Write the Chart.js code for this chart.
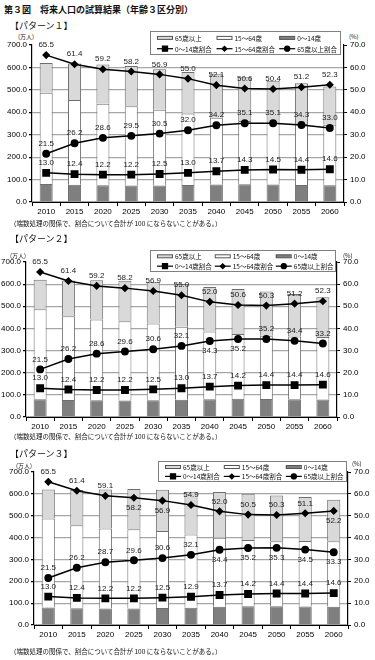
<!DOCTYPE html>
<html>
<head>
<meta charset="utf-8">
<script src="https://cdn.jsdelivr.net/npm/chart.js@4.4.0/dist/chart.umd.min.js"></script>
<style>
  body { margin: 0; width: 375px; height: 660px; background: #fff; position: relative; overflow: hidden; font-family: "Noto Sans CJK JP", sans-serif; color: #111; }
  .txt { position: absolute; white-space: nowrap; line-height: 1; }
  .title { font-size: 9px; font-weight: bold; }
  .pat { font-size: 9px; }
  .note { font-size: 6.5px; }
  .unit { font-size: 6px; }
  canvas { position: absolute; left: 0; }
</style>
</head>
<body>
<div class="txt title" style="left:4px;top:5px;">第３図　将来人口の試算結果（年齢３区分別）</div>

<div class="txt pat" style="left:10px;top:21px;">【パターン１】</div>
<div class="txt unit" style="left:18px;top:34px;">(万人)</div>
<div class="txt unit" style="left:349px;top:34px;">(%)</div>
<canvas id="chart1" width="375" height="190" style="top:30px;"></canvas>
<div class="txt note" style="left:10px;top:220px;">（端数処理の関係で、割合について合計が 100 にならないことがある。）</div>

<div class="txt pat" style="left:10px;top:234px;">【パターン２】</div>
<div class="txt unit" style="left:10px;top:253px;">(万人)</div>
<div class="txt unit" style="left:343px;top:253px;">(%)</div>
<canvas id="chart2" width="375" height="190" style="top:245px;"></canvas>
<div class="txt note" style="left:10px;top:433px;">（端数処理の関係で、割合について合計が 100 にならないことがある。）</div>

<div class="txt pat" style="left:10px;top:449px;">【パターン３】</div>
<div class="txt unit" style="left:16px;top:463px;">(万人)</div>
<div class="txt unit" style="left:352px;top:461px;">(%)</div>
<canvas id="chart3" width="375" height="188" style="top:455px;"></canvas>
<div class="txt note" style="left:10px;top:648px;">（端数処理の関係で、割合について合計が 100 にならないことがある。）</div>

<script>
const years = ['2010', '2015', '2020', '2025', '2030', '2035', '2040', '2045', '2050', '2055', '2060'];

// パターン１ (万人 / %)
const p1Young = [80.6, 76.5, 74.8, 74.1, 74.0, 75.4, 78.1, 79.5, 78.4, 76.3, 75.2];
const p1Work = [406.1, 378.8, 362.9, 353.3, 336.8, 319.0, 297.0, 281.3, 272.7, 271.4, 269.3];
const p1Old = [133.3, 161.7, 175.3, 179.1, 180.6, 185.6, 194.9, 195.2, 189.9, 181.8, 170.0];
const p1YoungPct = [13.0, 12.4, 12.2, 12.2, 12.5, 13.0, 13.7, 14.3, 14.5, 14.4, 14.6];
const p1WorkPct = [65.5, 61.4, 59.2, 58.2, 56.9, 55.0, 52.1, 50.6, 50.4, 51.2, 52.3];
const p1OldPct = [21.5, 26.2, 28.6, 29.5, 30.5, 32.0, 34.2, 35.1, 35.1, 34.3, 33.0];

// パターン２
const p2Young = [80.6, 76.5, 75.3, 75.0, 76.1, 78.0, 80.4, 82.1, 81.6, 79.9, 78.8];
const p2Work = [406.1, 378.8, 365.3, 357.9, 346.5, 330.0, 305.2, 292.5, 285.2, 284.2, 282.4];
const p2Old = [133.3, 161.7, 176.5, 182.0, 186.4, 192.6, 201.3, 203.5, 199.6, 190.9, 179.3];
const p2YoungPct = [13.0, 12.4, 12.2, 12.2, 12.5, 13.0, 13.7, 14.2, 14.4, 14.4, 14.6];
const p2WorkPct = [65.5, 61.4, 59.2, 58.2, 56.9, 55.0, 52.0, 50.6, 50.3, 51.2, 52.3];
const p2OldPct = [21.5, 26.2, 28.6, 29.6, 30.6, 32.1, 34.3, 35.2, 35.2, 34.4, 33.2];

// パターン３
const p3Young = [80.6, 76.6, 75.6, 75.9, 77.4, 78.7, 83.3, 85.3, 85.4, 84.4, 83.7];
const p3Work = [406.1, 379.5, 366.4, 362.0, 352.2, 334.9, 316.2, 303.5, 298.3, 299.4, 299.1];
const p3Old = [133.3, 161.9, 177.9, 184.1, 189.4, 195.8, 209.2, 211.6, 209.3, 202.2, 190.8];
const p3YoungPct = [13.0, 12.4, 12.2, 12.2, 12.5, 12.9, 13.7, 14.2, 14.4, 14.4, 14.6];
const p3WorkPct = [65.5, 61.4, 59.1, 58.2, 56.9, 54.9, 52.0, 50.5, 50.3, 51.1, 52.2];
const p3OldPct = [21.5, 26.2, 28.7, 29.6, 30.6, 32.1, 34.4, 35.2, 35.3, 34.5, 33.3];

// label side per point: 'a' above, 'b' below
const allAbove = years.map(() => 'a');
const p2OldSide = ['a', 'a', 'a', 'a', 'a', 'a', 'b', 'b', 'a', 'a', 'a'];
const p3WorkSide = ['a', 'a', 'a', 'b', 'b', 'a', 'a', 'a', 'a', 'a', 'b'];
const p3OldSide = ['a', 'a', 'a', 'a', 'a', 'a', 'b', 'b', 'b', 'b', 'b'];

const tickFont = { family: '"Liberation Sans", Arial, sans-serif', size: 8 };

// legend box drawn over the top of the plot
const legendBox = {
    id: 'legendBox',
    afterDraw(chart, args, opts) {
        const c = chart.ctx;
        const ds = chart.data.datasets;
        c.save();
        c.fillStyle = '#fff';
        c.fillRect(opts.x, opts.y, opts.w, opts.h);
        c.strokeStyle = '#808080';
        c.lineWidth = 1;
        c.strokeRect(opts.x + 0.5, opts.y + 0.5, opts.w, opts.h);
        c.font = '6.5px "Noto Sans CJK JP"';
        c.textBaseline = 'middle';
        const rows = [[2, 1, 0], [3, 4, 5]];
        const colX = [7, opts.w * 0.35, opts.w * 0.68];
        rows.forEach((row, r) => {
            const yy = opts.y + (r === 0 ? opts.h * 0.3 : opts.h * 0.77);
            row.forEach((idx, k) => {
                const d = ds[idx];
                const xx = opts.x + colX[k];
                if (d.type === 'bar') {
                    c.fillStyle = d.backgroundColor;
                    c.fillRect(xx, yy - 1.5, 15, 3);
                    c.strokeStyle = '#555';
                    c.strokeRect(xx + 0.5, yy - 1.5, 15, 3);
                } else {
                    c.strokeStyle = '#000';
                    c.lineWidth = 1.2;
                    c.beginPath();
                    c.moveTo(xx, yy);
                    c.lineTo(xx + 16, yy);
                    c.stroke();
                    c.fillStyle = '#000';
                    Chart.helpers.drawPoint(c, {pointStyle: d.pointStyle, radius: d.pointRadius * 0.8, borderWidth: 1}, xx + 8, yy);
                }
                c.fillStyle = '#111';
                c.fillText(d.label, xx + 18, yy + 0.5);
            });
        });
        c.restore();
    }
};

// value labels next to the ratio lines
const pointLabels = {
    id: 'pointLabels',
    afterDatasetsDraw(chart) {
        const c = chart.ctx;
        c.save();
        c.font = '8px "Liberation Sans", Arial, sans-serif';
        c.fillStyle = '#222';
        c.textAlign = 'center';
        c.textBaseline = 'middle';
        chart.data.datasets.forEach((d, i) => {
            if (d.type !== 'line') return;
            chart.getDatasetMeta(i).data.forEach((pt, j) => {
                const below = d.labelSide[j] === 'b';
                c.fillText(d.data[j].toFixed(1), pt.x, pt.y + (below ? 10 : -10));
            });
        });
        c.restore();
    }
};

function makeChart(id, young, work, old, youngPct, workPct, oldPct, sides, layout) {
    const barBase = {type: 'bar', yAxisID: 'y', order: 2, borderColor: '#6e6e6e', borderWidth: 1,
        barPercentage: 0.46, categoryPercentage: 1};
    const lineBase = {type: 'line', yAxisID: 'y2', order: 0, borderColor: '#000', borderWidth: 1.5,
        pointBackgroundColor: '#000', pointBorderColor: '#000', tension: 0, fill: false};

    return new Chart(document.getElementById(id), {
        data: {
            labels: years,
            datasets: [
                {...barBase, label: '0～14歳', data: young, backgroundColor: '#7f7f7f'},
                {...barBase, label: '15～64歳', data: work, backgroundColor: '#ffffff'},
                {...barBase, label: '65歳以上', data: old, backgroundColor: '#d9d9d9'},
                {...lineBase, label: '0～14歳割合', data: youngPct, pointStyle: 'rect', pointRadius: 4.5, labelSide: sides[0]},
                {...lineBase, label: '15～64歳割合', data: workPct, pointStyle: 'rectRot', pointRadius: 3, labelSide: sides[1]},
                {...lineBase, label: '65歳以上割合', data: oldPct, pointStyle: 'circle', pointRadius: 3.2, labelSide: sides[2]}
            ]
        },
        options: {
            responsive: false,
            animation: false,
            layout: {padding: {top: layout.padTop, left: 0, right: 0, bottom: 0}},
            plugins: {
                legend: {display: false},
                title: {display: false},
                tooltip: {enabled: false},
                legendBox: layout.legend
            },
            scales: {
                x: {
                    stacked: true,
                    offset: true,
                    grid: {display: true, drawOnChartArea: false, offset: true, tickLength: 4, color: '#000'},
                    border: {color: '#000'},
                    ticks: {font: tickFont, color: '#000', padding: 1, maxRotation: 0, autoSkip: false},
                    afterFit: s => { s.height = layout.xH; }
                },
                y: {
                    stacked: true,
                    position: 'left',
                    min: 0,
                    max: 700,
                    ticks: {stepSize: 100, callback: v => v.toFixed(1), font: tickFont, color: '#000', padding: 2},
                    grid: {color: ctx => ctx.tick.value === 700 ? 'rgba(0,0,0,0)' : '#a6a6a6', tickColor: '#000', tickLength: 3, lineWidth: 1.2},
                    border: {color: '#000', width: 1.2},
                    afterFit: s => { s.width = layout.left; }
                },
                y2: {
                    position: 'right',
                    min: 0,
                    max: 70,
                    ticks: {stepSize: 10, callback: v => v.toFixed(1), font: tickFont, color: '#000', padding: 3},
                    grid: {drawOnChartArea: false, color: '#000', tickLength: 3},
                    border: {color: '#000', width: 1.2},
                    afterFit: s => { s.width = 375 - layout.right; }
                }
            }
        },
        plugins: [pointLabels, legendBox]
    });
}

makeChart('chart1', p1Young, p1Work, p1Old, p1YoungPct, p1WorkPct, p1OldPct,
    [allAbove, allAbove, allAbove],
    {padTop: 15, xH: 18, left: 32, right: 344, legend: {x: 150, y: 1, w: 190, h: 23}});

makeChart('chart2', p2Young, p2Work, p2Old, p2YoungPct, p2WorkPct, p2OldPct,
    [allAbove, allAbove, p2OldSide],
    {padTop: 17, xH: 18, left: 26, right: 337, legend: {x: 150, y: 5, w: 185, h: 21}});

makeChart('chart3', p3Young, p3Work, p3Old, p3YoungPct, p3WorkPct, p3OldPct,
    [allAbove, p3WorkSide, p3OldSide],
    {padTop: 17, xH: 18, left: 34, right: 348, legend: {x: 158, y: 6, w: 188, h: 20}});
</script>
</body>
</html>
